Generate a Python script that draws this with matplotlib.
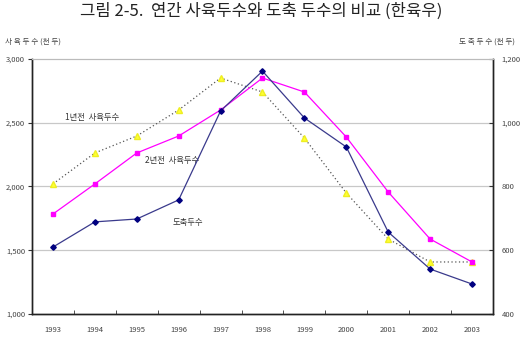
import matplotlib.pyplot as plt
from matplotlib.ticker import FuncFormatter, FixedLocator

plt.rcParams['font.family'] = ['Noto Sans CJK KR', 'DejaVu Sans']

years = ['1993', '1994', '1995', '1996', '1997', '1998', '1999', '2000', '2001', '2002', '2003']
# 사육두수 (천두), left axis
rear_1y = [2020, 2263, 2396, 2600, 2851, 2741, 2380, 1949, 1588, 1408, 1408]
rear_2y = [1784, 2020, 2263, 2396, 2600, 2851, 2741, 2388, 1957, 1588, 1408]
# 도축두수 (천두), right axis
slaughter = [610, 689, 698, 758, 1037, 1162, 1015, 924, 657, 541, 494]

fig = plt.figure(figsize=(5.23, 3.41), dpi=100)
ax = fig.add_axes([0.0612, 0.0792, 0.8814, 0.7478])
ax2 = ax.twinx()

x = list(range(len(years)))
ax.plot(x, rear_1y, color='#555555', ls=(0, (1, 2)), lw=0.9, marker='^',
        ms=4, mfc='#ffff33', mec='#eeee22', zorder=3)
ax.plot(x, rear_2y, color='#ff00ff', lw=0.9, marker='s', ms=3.5,
        mfc='#ff00ff', mec='#ff00ff', zorder=3)
ax2.plot(x, slaughter, color='#3a3a8c', lw=0.9, marker='D', ms=2.8,
         mfc='#000080', mec='#000080', zorder=3)

ax.set_xlim(-0.5, len(years) - 0.5)
ax.set_ylim(1000, 3000)
ax2.set_ylim(400, 1200)
ax.set_yticks([1000, 1500, 2000, 2500, 3000])
ax2.set_yticks([400, 600, 800, 1000, 1200])
fmt = FuncFormatter(lambda v, p: f'{int(v):,}')
ax.yaxis.set_major_formatter(fmt)
ax2.yaxis.set_major_formatter(fmt)

ax.set_xticks(x)
ax.set_xticklabels(years)
ax.xaxis.set_minor_locator(FixedLocator([i + 0.5 for i in x[:-1]]))
ax.tick_params(axis='x', which='major', length=0, pad=9, labelsize=5.5, labelcolor='#444444')
ax.tick_params(axis='x', which='minor', direction='in', length=3, color='#333333')
ax.tick_params(axis='y', direction='out', length=3, pad=2, labelsize=5.5,
               labelcolor='#444444', color='#333333')
ax2.tick_params(axis='y', direction='in', length=3, pad=6, labelsize=5.5,
                labelcolor='#444444', color='#333333')

for yv in [1500, 2000, 2500]:
    ax.axhline(yv, color='#c8c8c8', lw=0.9, zorder=1)

for a in (ax, ax2):
    a.spines['left'].set_color('#222222')
    a.spines['right'].set_color('#222222')
    a.spines['bottom'].set_color('#222222')
    a.spines['top'].set_color('#bbbbbb')
    a.spines['left'].set_linewidth(1.0)
    a.spines['right'].set_linewidth(1.0)
    a.spines['bottom'].set_linewidth(1.0)
    a.spines['top'].set_linewidth(0.8)

fig.text(0.01, 0.877, '사 육 두 수 (천 두)', fontsize=5.5, color='#444444', va='center')
fig.text(0.985, 0.877, '도 축 두 수 (천 두)', fontsize=5.5, color='#444444', va='center', ha='right')

ax.text(0.28, 2540, '1년전  사육두수', fontsize=6, color='#333333', va='center')
ax.text(2.2, 2200, '2년전  사육두수', fontsize=6, color='#333333', va='center')
ax.text(2.85, 1714, '도축두수', fontsize=6, color='#333333', va='center')

fig.text(0.5, 0.966, '그림 2-5.  연간 사육두수와 도축 두수의 비교 (한육우)', fontsize=12,
         color='#222222', ha='center', va='center')

fig.savefig('out.png', dpi=100)
